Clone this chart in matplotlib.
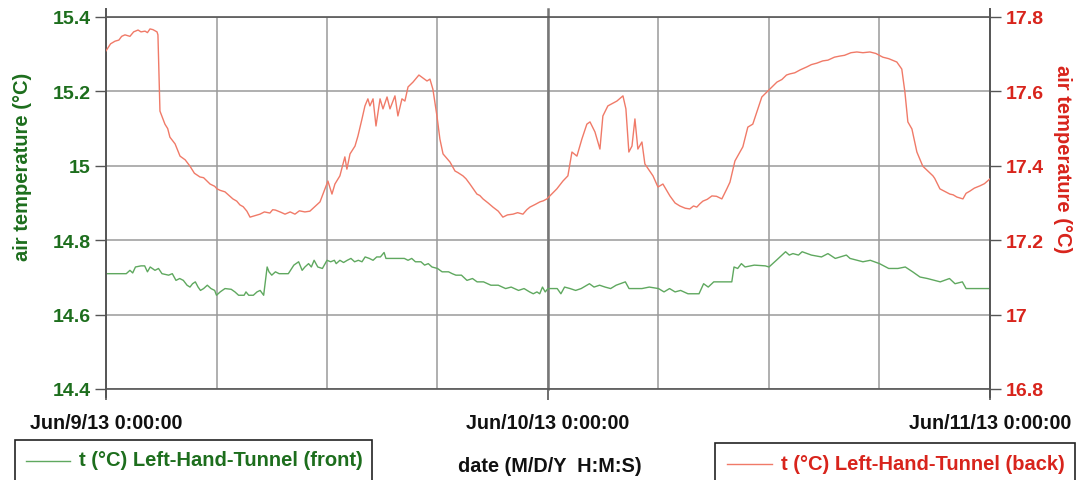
"""
Air temperature in the left-hand tunnel, front and back sensors, Jun 9-11 2013.
"""
import matplotlib
matplotlib.use('Agg')
import matplotlib.pyplot as plt
from matplotlib.lines import Line2D
from matplotlib.patches import Rectangle
from matplotlib.ticker import FixedLocator, MultipleLocator, FuncFormatter

plt.rcParams['font.family'] = ['Liberation Sans', 'DejaVu Sans']

# hours since Jun/9/13 0:00:00
front_hours = [0, 1.1, 1.3, 1.45, 1.6, 1.9, 2.1, 2.25, 2.4, 2.66, 2.85, 3.04, 3.4, 3.6, 3.8, 4.0,
               4.2, 4.4, 4.56, 4.7, 4.85, 5.0, 5.13, 5.3, 5.5, 5.7, 5.9, 6.0, 6.2, 6.46, 6.8, 7.0,
               7.2, 7.5, 7.6, 7.75, 8.0, 8.2, 8.37, 8.56, 8.75, 8.85, 9.0, 9.2, 9.4, 9.9, 10.2,
               10.46, 10.65, 10.8, 11.0, 11.15, 11.3, 11.5, 11.75, 12.0, 12.2, 12.4, 12.5, 12.7,
               12.9, 13.1, 13.3, 13.5, 13.7, 13.9, 14.07, 14.3, 14.5, 14.7, 14.9, 15.1, 15.2,
               16.2, 16.4, 16.6, 16.8, 17.1, 17.3, 17.5, 17.7, 18.0, 18.25, 18.6, 18.8, 19.0,
               19.3, 19.6, 19.9, 20.15, 20.5, 20.9, 21.3, 21.7, 22.0, 22.4, 22.7, 23.0, 23.2,
               23.4, 23.55, 23.7, 23.85, 24.0, 24.5, 24.7, 24.9, 25.2, 25.5, 25.8, 26.25, 26.5,
               26.8, 27.1, 27.4, 27.7, 28.2, 28.4, 29.1, 29.5, 30.0, 30.3, 30.6, 30.9, 31.2,
               31.6, 32.2, 32.45, 32.7, 33.0, 33.98, 34.1, 34.3, 34.5, 34.7, 35.2, 35.8, 36.0,
               36.4, 36.9, 37.1, 37.3, 37.6, 37.8, 38.3, 38.85, 39.2, 39.6, 40.2, 40.4, 40.8,
               41.1, 41.5, 42.0, 42.5, 43.0, 43.4, 43.8, 44.2, 44.6, 45.3, 45.8, 46.1, 46.5,
               46.7, 48.0]
front_temp = [14.710, 14.710, 14.719, 14.712, 14.728, 14.731, 14.731, 14.715, 14.728, 14.719,
              14.724, 14.710, 14.706, 14.710, 14.692, 14.697, 14.692, 14.679, 14.674, 14.683,
              14.688, 14.674, 14.665, 14.670, 14.679, 14.670, 14.665, 14.652, 14.661, 14.670,
              14.668, 14.661, 14.652, 14.652, 14.661, 14.652, 14.652, 14.661, 14.665, 14.652,
              14.728, 14.715, 14.706, 14.715, 14.710, 14.710, 14.733, 14.742, 14.719, 14.728,
              14.737, 14.728, 14.746, 14.728, 14.724, 14.746, 14.742, 14.746, 14.737, 14.746,
              14.740, 14.746, 14.751, 14.742, 14.746, 14.742, 14.755, 14.751, 14.746, 14.755,
              14.755, 14.767, 14.751, 14.751, 14.746, 14.751, 14.742, 14.742, 14.733, 14.737,
              14.728, 14.724, 14.715, 14.715, 14.710, 14.706, 14.706, 14.692, 14.697, 14.688,
              14.688, 14.679, 14.679, 14.670, 14.674, 14.665, 14.670, 14.661, 14.656, 14.661,
              14.656, 14.674, 14.661, 14.670, 14.670, 14.656, 14.674, 14.670, 14.665, 14.670,
              14.683, 14.674, 14.679, 14.674, 14.670, 14.679, 14.688, 14.670, 14.670, 14.674,
              14.670, 14.661, 14.670, 14.661, 14.665, 14.656, 14.656, 14.683, 14.674, 14.688,
              14.688, 14.728, 14.724, 14.737, 14.728, 14.733, 14.731, 14.728, 14.746, 14.769,
              14.760, 14.764, 14.760, 14.769, 14.760, 14.755, 14.764, 14.751, 14.760, 14.751,
              14.746, 14.742, 14.746, 14.737, 14.724, 14.724, 14.728, 14.715, 14.701, 14.697,
              14.688, 14.697, 14.683, 14.688, 14.670, 14.670]

back_hours = [0.0, 0.25, 0.49, 0.7, 0.85, 1.03, 1.3, 1.5, 1.74, 1.9,
              2.12, 2.25, 2.39, 2.55, 2.77, 2.82, 2.93, 3.2, 3.35, 3.47,
              3.75, 4.02, 4.3, 4.56, 4.8, 5.1, 5.3, 5.65, 5.9, 6.03,
              6.2, 6.46, 6.89, 7.1, 7.27, 7.45, 7.65, 7.82, 8.36, 8.6,
              8.9, 9.05, 9.2, 9.5, 9.72, 10.0, 10.26, 10.5, 10.8, 11.07,
              11.62, 12.05, 12.27, 12.43, 12.7, 12.97, 13.08, 13.25, 13.52, 13.68,
              13.9, 14.06, 14.22, 14.33, 14.5, 14.66, 14.88, 15.04, 15.26, 15.42,
              15.69, 15.85, 16.07, 16.23, 16.4, 16.67, 16.99, 17.43, 17.59, 17.75,
              17.97, 18.13, 18.3, 18.68, 18.95, 19.1, 19.38, 19.55, 19.76, 20.14,
              20.3, 20.47, 20.75, 21.01, 21.3, 21.55, 21.8, 22.1, 22.35, 22.64,
              22.85, 23.02, 23.3, 23.56, 23.75, 23.94, 24.48, 24.81, 25.08, 25.3,
              25.57, 25.84, 26.11, 26.28, 26.55, 26.82, 26.98, 27.25, 27.74, 28.07,
              28.23, 28.39, 28.56, 28.72, 28.88, 29.1, 29.26, 29.7, 29.97, 30.24,
              30.62, 30.9, 31.16, 31.45, 31.7, 31.9, 32.08, 32.25, 32.41, 32.65,
              32.9, 33.15, 33.44, 33.71, 33.88, 34.15, 34.58, 34.85, 35.12, 35.34,
              35.61, 35.94, 36.43, 36.7, 36.95, 37.13, 37.4, 37.7, 38.06, 38.3,
              38.6, 38.92, 39.2, 39.55, 39.85, 40.1, 40.45, 40.77, 41.1, 41.48,
              41.8, 42.18, 42.5, 42.94, 43.21, 43.38, 43.54, 43.76, 44.03, 44.35,
              44.9, 45.0, 45.28, 45.55, 45.82, 46.0, 46.2, 46.53, 46.7, 46.91,
              47.15, 47.45, 47.7, 48.0]
back_temp = [17.709, 17.728, 17.735, 17.738, 17.748, 17.752, 17.748, 17.760, 17.765, 17.760,
             17.762, 17.758, 17.768, 17.766, 17.760, 17.752, 17.547, 17.512, 17.500, 17.477,
             17.459, 17.426, 17.416, 17.399, 17.380, 17.370, 17.368, 17.351, 17.345, 17.338,
             17.334, 17.330, 17.311, 17.305, 17.295, 17.290, 17.278, 17.262, 17.270, 17.276,
             17.273, 17.282, 17.281, 17.275, 17.270, 17.276, 17.270, 17.279, 17.276, 17.278,
             17.303, 17.359, 17.324, 17.351, 17.373, 17.424, 17.391, 17.432, 17.453, 17.480,
             17.526, 17.561, 17.580, 17.561, 17.580, 17.507, 17.580, 17.553, 17.585, 17.553,
             17.588, 17.534, 17.580, 17.574, 17.612, 17.625, 17.644, 17.628, 17.633, 17.606,
             17.534, 17.472, 17.432, 17.410, 17.386, 17.382, 17.373, 17.365, 17.351, 17.324,
             17.320, 17.311, 17.300, 17.289, 17.278, 17.262, 17.268, 17.270, 17.274, 17.270,
             17.282, 17.289, 17.296, 17.303, 17.306, 17.311, 17.338, 17.359, 17.373, 17.437,
             17.426, 17.472, 17.512, 17.518, 17.491, 17.445, 17.534, 17.561, 17.574, 17.588,
             17.553, 17.437, 17.453, 17.526, 17.445, 17.464, 17.405, 17.373, 17.343, 17.351,
             17.319, 17.300, 17.292, 17.286, 17.284, 17.292, 17.289, 17.298, 17.305, 17.310,
             17.319, 17.318, 17.311, 17.338, 17.356, 17.413, 17.451, 17.504, 17.512, 17.545,
             17.585, 17.601, 17.625, 17.632, 17.644, 17.647, 17.650, 17.658, 17.666, 17.672,
             17.676, 17.682, 17.684, 17.692, 17.695, 17.697, 17.704, 17.706, 17.704, 17.706,
             17.702, 17.692, 17.688, 17.679, 17.660, 17.598, 17.518, 17.499, 17.437, 17.399,
             17.373, 17.366, 17.338, 17.331, 17.324, 17.322, 17.316, 17.311, 17.326, 17.332,
             17.340, 17.346, 17.352, 17.365]

x_tick_hours = [0, 24, 48]
x_tick_labels = ['Jun/9/13 0:00:00', 'Jun/10/13 0:00:00', 'Jun/11/13 0:00:00']
left_ticks = [14.4, 14.6, 14.8, 15.0, 15.2, 15.4]
right_ticks = [16.8, 17.0, 17.2, 17.4, 17.6, 17.8]

GREEN_LINE = '#5fa85f'
GREEN_TEXT = '#1d6e1d'
RED_LINE = '#f07a68'
RED_TEXT = '#d8241c'
FRAME = '#555555'
GRID = '#9a9a9a'

fig = plt.figure(figsize=(10.91, 4.81), dpi=100)
ax = fig.add_axes([106 / 1091, 1 - 390 / 481, 884 / 1091, 372 / 481])
ax2 = ax.twinx()

ax.plot(front_hours, front_temp, color=GREEN_LINE, lw=1.0, zorder=3)
ax2.plot(back_hours, back_temp, color=RED_LINE, lw=1.0, zorder=3)

ax.set_xlim(0, 48)
ax.set_ylim(14.4, 15.4)
ax2.set_ylim(16.8, 17.8)

fmt = FuncFormatter(lambda v, p: f'{v:g}')
ax.yaxis.set_major_locator(FixedLocator(left_ticks))
ax.yaxis.set_major_formatter(fmt)
ax2.yaxis.set_major_locator(FixedLocator(right_ticks))
ax2.yaxis.set_major_formatter(fmt)

ax.xaxis.set_major_locator(FixedLocator(x_tick_hours))
ax.set_xticklabels(x_tick_labels)
ax.xaxis.set_minor_locator(MultipleLocator(6))

ax.grid(which='both', axis='x', color=GRID, lw=1.1)
ax.grid(which='major', axis='y', color=GRID, lw=1.1)
ax.set_axisbelow(True)

ax.tick_params(axis='x', which='major', length=8, width=1.2, color=FRAME, pad=9,
               labelsize=14.2, labelcolor='#111111')
ax.tick_params(axis='x', which='minor', length=0)
ax.tick_params(axis='y', length=8, width=1.0, color=FRAME, pad=3,
               labelsize=14, labelcolor=GREEN_TEXT)
ax2.tick_params(axis='y', length=8, width=1.0, color=FRAME, pad=3,
                labelsize=14, labelcolor=RED_TEXT)
for lab in ax.get_xticklabels() + ax.get_yticklabels() + ax2.get_yticklabels():
    lab.set_fontweight('bold')

for a in (ax, ax2):
    for s in a.spines.values():
        s.set_visible(False)

# frame: top/bottom lines, left/right axes sticking out a little
tr = ax.transAxes
ax.add_line(Line2D([0, 1], [1, 1], transform=tr, color=FRAME, lw=1.2, clip_on=False, zorder=4))
ax.add_line(Line2D([0, 1], [0, 0], transform=tr, color=FRAME, lw=1.2, clip_on=False, zorder=4))
for xa in (0, 1):
    ax.add_line(Line2D([xa, xa], [-0.022, 1.022], transform=tr, color=FRAME, lw=1.4,
                       clip_on=False, zorder=4))
ax.add_line(Line2D([0.5, 0.5], [0, 1.022], transform=tr, color='#777777', lw=1.8,
                   clip_on=False, zorder=2))

ax.set_ylabel('air temperature (°C)', color=GREEN_TEXT, fontsize=14.5, fontweight='bold')
ax.yaxis.set_label_coords(-0.0837, 0.60)
ax2.set_ylabel('air temperature (°C)', color=RED_TEXT, fontsize=14.5, fontweight='bold',
               rotation=270)
ax2.yaxis.set_label_coords(1.093, 0.62)

# bottom legend boxes and axis title
fig.patches.append(Rectangle((15 / 1091, -0.05), 357 / 1091, 1 - 441 / 481 + 0.05,
                             transform=fig.transFigure, fill=False, ec='#222222', lw=1.2))
fig.lines.append(Line2D([26 / 1091, 70 / 1091], [1 - 462 / 481] * 2,
                        transform=fig.transFigure, color=GREEN_LINE, lw=1.0))
fig.text(79 / 1091, 1 - 461 / 481, 't (°C) Left-Hand-Tunnel (front)', color=GREEN_TEXT,
         fontsize=14.5, fontweight='bold', va='center', ha='left')

fig.patches.append(Rectangle((715 / 1091, -0.05), 360 / 1091, 1 - 444 / 481 + 0.05,
                             transform=fig.transFigure, fill=False, ec='#222222', lw=1.2))
fig.lines.append(Line2D([727 / 1091, 772 / 1091], [1 - 465 / 481] * 2,
                        transform=fig.transFigure, color=RED_LINE, lw=1.0))
fig.text(781 / 1091, 1 - 465 / 481, 't (°C) Left-Hand-Tunnel (back)', color=RED_TEXT,
         fontsize=14.5, fontweight='bold', va='center', ha='left')

fig.text(550 / 1091, 1 - 467 / 481, 'date (M/D/Y  H:M:S)', color='#111111',
         fontsize=14.3, fontweight='bold', va='center', ha='center')

fig.savefig('out.png', dpi=100)
